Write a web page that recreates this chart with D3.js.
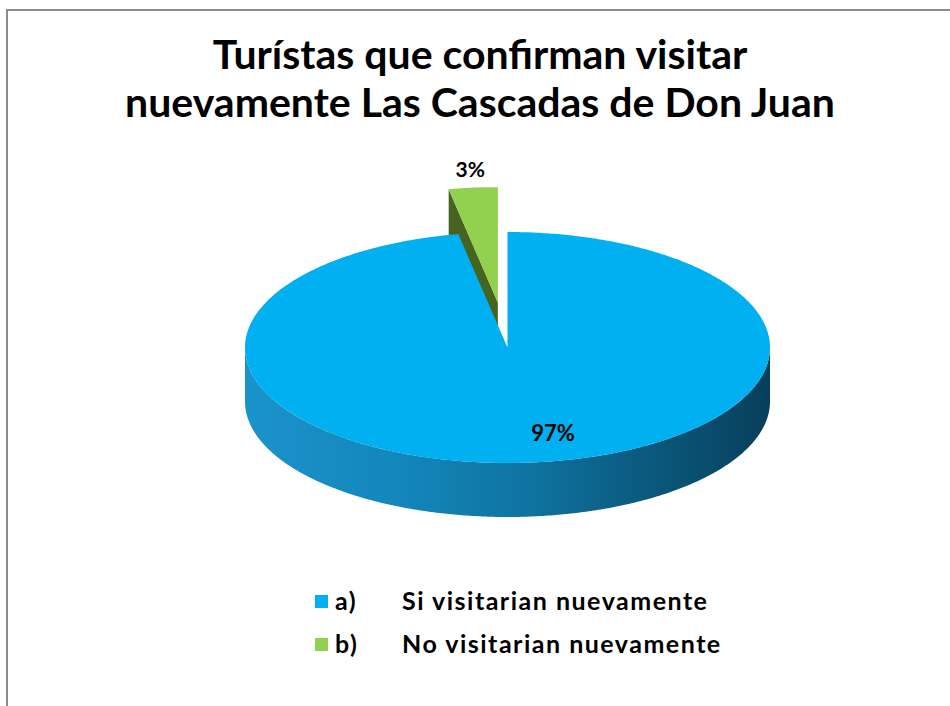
<!DOCTYPE html>
<html>
<head>
<meta charset="utf-8">
<script src="https://cdn.jsdelivr.net/npm/d3@7"></script>
<style>
  body { margin: 0; background: #fff; }
  svg { display: block; }
  text { font-family: Lato, "Open Sans", sans-serif; font-weight: bold; fill: #000; }
</style>
</head>
<body>
<svg id="chart" width="950" height="706"></svg>
<script>
// Survey answers
const titleLines = ["Turístas que confirman visitar", "nuevamente Las Cascadas de Don Juan"];
const categories = ["a)", "b)"];
const categoryLabels = ["Si visitarian nuevamente", "No visitarian nuevamente"];
const values = [97, 3];
const topColors = ["#00b0f0", "#92d050"];
const cutColors = ["#0b6f9c", "#46631f"];
const explodeBy = [0, 0.39];

const svg = d3.select("#chart");
const W = 950, H = 706;

// frame: grey rule on top and left
svg.append("rect").attr("x", 0).attr("y", 0).attr("width", W).attr("height", H).attr("fill", "#fff");
svg.append("path")
  .attr("d", `M7,${H} L7,10 L${W},10`)
  .attr("fill", "none").attr("stroke", "#8c8c8c").attr("stroke-width", 2);

// title
svg.append("g").selectAll("text").data(titleLines).join("text")
  .attr("x", 480)
  .attr("y", (d, i) => 69 + i * 48)
  .attr("text-anchor", "middle")
  .style("font-size", "41px")
  .text(d => d);

// 3-D pie geometry (ellipse top, extruded side)
const cx = 507.5, cy = 347.5, rx = 262.5, ry = 115.5, depth = 54;
const arcs = d3.pie().sort(null).value(d => d)(values);

function offsetOf(a, i) {
  const mid = (a.startAngle + a.endAngle) / 2;
  return { x: explodeBy[i] * rx * Math.sin(mid), y: -explodeBy[i] * ry * Math.cos(mid) };
}
function pt(ang, r, z, off) {
  return [cx + off.x + r * rx * Math.sin(ang), cy + off.y - r * ry * Math.cos(ang) + z];
}
function arcPoints(a0, a1, z, off) {
  const n = Math.max(2, Math.ceil(Math.abs(a1 - a0) / 0.01));
  return d3.range(n + 1).map(k => pt(a0 + (a1 - a0) * k / n, 1, z, off));
}
const line = d3.line();

const defs = svg.append("defs");
const grad = defs.append("linearGradient").attr("id", "wallBlue")
  .attr("gradientUnits", "userSpaceOnUse")
  .attr("x1", cx - rx).attr("x2", cx + rx).attr("y1", 0).attr("y2", 0);
[[0, "#1a93cb"], [0.3, "#1386bb"], [0.55, "#0f729f"], [0.8, "#0a5578"], [1, "#073f5b"]]
  .forEach(([o, c]) => grad.append("stop").attr("offset", o).attr("stop-color", c));
const gradG = defs.append("linearGradient").attr("id", "wallGreen")
  .attr("gradientUnits", "userSpaceOnUse")
  .attr("x1", cx - rx).attr("x2", cx + rx).attr("y1", 0).attr("y2", 0);
[[0, "#6c9a35"], [1, "#3b531a"]]
  .forEach(([o, c]) => gradG.append("stop").attr("offset", o).attr("stop-color", c));
const wallFill = ["url(#wallBlue)", "url(#wallGreen)"];

// draw back slices first so the front ones cover them
const order = arcs.map((a, i) => i).sort((p, q) => {
  const mp = (arcs[p].startAngle + arcs[p].endAngle) / 2;
  const mq = (arcs[q].startAngle + arcs[q].endAngle) / 2;
  return (-Math.cos(mp)) - (-Math.cos(mq));
});

const pieG = svg.append("g");
order.forEach(i => {
  const a = arcs[i], off = offsetOf(a, i);
  const g = pieG.append("g");
  const apexTop = pt(0, 0, 0, off), apexBot = pt(0, 0, depth, off);

  // radial cut faces that turn toward the viewer
  if (Math.sin(a.startAngle) < -1e-6) {
    const pts = [apexTop, pt(a.startAngle, 1, 0, off), pt(a.startAngle, 1, depth, off), apexBot];
    g.append("path").attr("d", line(pts) + "Z").attr("fill", cutColors[i]);
  }
  if (Math.sin(a.endAngle) > 1e-6) {
    const pts = [apexTop, pt(a.endAngle, 1, 0, off), pt(a.endAngle, 1, depth, off), apexBot];
    g.append("path").attr("d", line(pts) + "Z").attr("fill", cutColors[i]);
  }

  // outer wall: front half of the ellipse only
  const lo = Math.max(a.startAngle, Math.PI / 2), hi = Math.min(a.endAngle, 3 * Math.PI / 2);
  if (hi > lo) {
    const pts = arcPoints(lo, hi, 0, off).concat(arcPoints(hi, lo, depth, off));
    g.append("path").attr("d", line(pts) + "Z").attr("fill", wallFill[i]);
  }

  // top face
  const top = [apexTop].concat(arcPoints(a.startAngle, a.endAngle, 0, off));
  g.append("path").attr("d", line(top) + "Z").attr("fill", topColors[i]);
});

// value labels
const labelG = svg.append("g");
arcs.forEach((a, i) => {
  const off = offsetOf(a, i);
  const mid = (a.startAngle + a.endAngle) / 2;
  let p;
  if (explodeBy[i] > 0) {
    const o = pt(mid, 1, 0, off);
    p = [o[0] - 3, o[1] - 11];
  } else {
    const o = pt(mid, 0.75, 0, off);
    p = [o[0] + 27, o[1] + 7];
  }
  labelG.append("text")
    .attr("x", p[0]).attr("y", p[1])
    .attr("text-anchor", "middle")
    .style("font-size", explodeBy[i] > 0 ? "21px" : "22px")
    .text(values[i] + "%");
});

// legend
const legend = svg.append("g");
categories.forEach((c, i) => {
  const y = 595 + i * 43;
  legend.append("rect").attr("x", 315).attr("y", y).attr("width", 13).attr("height", 13).attr("fill", topColors[i]);
  legend.append("text").attr("x", 335).attr("y", y + 15)
    .style("font-size", "25px").style("letter-spacing", "1.5px").text(c);
  legend.append("text").attr("x", 402).attr("y", y + 15)
    .style("font-size", "25px").style("letter-spacing", "1.5px").text(categoryLabels[i]);
});
</script>
</body>
</html>
